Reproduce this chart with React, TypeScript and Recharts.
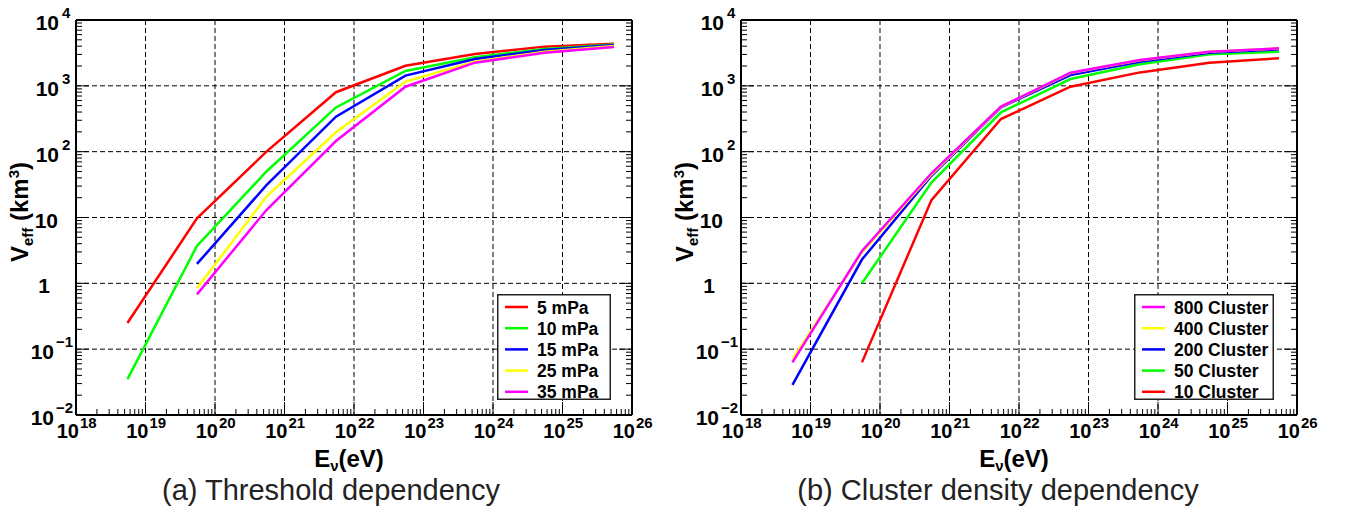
import React from "react";
import { LineChart, Line, XAxis, YAxis, CartesianGrid, Legend } from "recharts";

// neutrino energy of each simulated point (eV)
const energyEv = [5.5e18, 5.5e19, 5.5e20, 5.5e21, 5.5e22, 5.5e23, 5.5e24, 5.5e25];

// (a) threshold dependency, V_eff in km^3
const thrNames = ["5 mPa", "10 mPa", "15 mPa", "25 mPa", "35 mPa"];
const thr5 = [0.25, 9.7, 100, 800, 2020, 3050, 3940, 4370];
const thr10 = [0.035, 3.7, 50, 470, 1680, 2710, 3630, 4260];
const thr15 = [null, 1.97, 31, 340, 1430, 2560, 3500, 4170];
const thr25 = [null, 0.84, 20.7, 197, 1160, 2330, 3300, 4030];
const thr35 = [null, 0.68, 13, 145, 970, 2250, 3190, 3890];

// (b) cluster density dependency, V_eff in km^3
const clNames = ["800 Cluster", "400 Cluster", "200 Cluster", "50 Cluster", "10 Cluster"];
const cl800 = [0.063, 3.1, 47, 483, 1585, 2470, 3300, 3710];
const cl400 = [0.07, 2.95, 45, 480, 1560, 2440, 3300, 3710];
const cl200 = [0.0286, 2.3, 43, 471, 1460, 2330, 3190, 3580];
const cl50 = [null, 1.0, 34, 395, 1270, 2120, 3010, 3300];
const cl10 = [null, 0.063, 18.4, 313, 970, 1600, 2250, 2620];

const xDecades = [18, 19, 20, 21, 22, 23, 24, 25, 26];
const yDecades = [-2, -1, 0, 1, 2, 3, 4];

const FONT = '"Liberation Sans", Arial, Helvetica, sans-serif';

// log axis ticks: decades plus 2..9 minors
function logTicks(decs: number[]) {
  const out: number[] = [];
  decs.forEach((d, i) => {
    out.push(Number(`1e${d}`));
    if (i < decs.length - 1) for (let m = 2; m <= 9; m++) out.push(Number(`${m}e${d}`));
  });
  return out;
}
const xTicks = logTicks(xDecades);
const yTicks = logTicks(yDecades);
const xGrid = xDecades.slice(1, -1).map(d => Number(`1e${d}`));
const yGrid = yDecades.slice(1, -1).map(d => Number(`1e${d}`));

function isMajor(v: number) {
  const l = Math.log10(v);
  return Math.abs(l - Math.round(l)) < 1e-6;
}
const MAJ = 13;
const MIN = 6;

function BottomTick(props: any) {
  const { x, y, payload } = props;
  const major = isMajor(payload.value);
  const p = Math.round(Math.log10(payload.value));
  return (
    <g>
      <line x1={x} x2={x} y1={y} y2={y - (major ? MAJ : MIN)} stroke="#000" />
      {major && (
        <text x={x + 3} y={y + 23} textAnchor="end" fontSize={20} fontWeight="bold" fontFamily={FONT} fill="#000">10</text>
      )}
      {major && (
        <text x={x + 4} y={y + 13} fontSize={15} fontWeight="bold" fontFamily={FONT} fill="#000">{p}</text>
      )}
    </g>
  );
}

function TopTick(props: any) {
  const { x, y, payload } = props;
  const len = isMajor(payload.value) ? MAJ : MIN;
  return <line x1={x} x2={x} y1={y} y2={y + len} stroke="#000" />;
}

function LeftTick(props: any) {
  const { x, y, payload } = props;
  const major = isMajor(payload.value);
  const p = Math.round(Math.log10(payload.value));
  let label: React.ReactNode = null;
  if (major) {
    const common = { fontWeight: "bold", fontFamily: FONT, fill: "#000" } as any;
    if (p === 0) {
      label = <text x={x - 26} y={y + 10} textAnchor="end" fontSize={21} {...common}>1</text>;
    } else if (p === 1) {
      label = <text x={x - 18} y={y + 10} textAnchor="end" fontSize={21} {...common}>10</text>;
    } else {
      const neg = p < 0;
      label = (
        <g>
          <text x={x - (neg ? 22 : 17)} y={y + 10} textAnchor="end" fontSize={21} {...common}>10</text>
          <text x={x - (neg ? 20 : 14)} y={y - 2} fontSize={15} {...common}>{neg ? `\u2212${-p}` : p}</text>
        </g>
      );
    }
  }
  return (
    <g>
      <line x1={x} x2={x + (major ? MAJ : MIN)} y1={y} y2={y} stroke="#000" />
      {label}
    </g>
  );
}

function RightTick(props: any) {
  const { x, y, payload } = props;
  const len = isMajor(payload.value) ? MAJ : MIN;
  return <line x1={x} x2={x - len} y1={y} y2={y} stroke="#000" />;
}

function XTitle(props: any) {
  const vb = props.viewBox;
  const tx = vb.x + vb.width / 2 - 5;
  const ty = vb.y + 52;
  return (
    <text x={tx} y={ty} textAnchor="middle" fontSize={24} fontWeight="bold" fontFamily={FONT} fill="#000">
      E<tspan fontSize={15} dy={4}>ν</tspan><tspan dy={-4}>(eV)</tspan>
    </text>
  );
}

function YTitle(props: any) {
  const vb = props.viewBox;
  const tx = vb.x + vb.width - 48;
  const ty = 212;
  return (
    <text x={tx} y={ty} transform={`rotate(-90, ${tx}, ${ty})`} textAnchor="middle" fontSize={24} fontWeight="bold" fontFamily={FONT} fill="#000">
      V<tspan fontSize={15} dy={5}>eff</tspan><tspan dy={-5}> (km</tspan><tspan fontSize={15} dy={-9}>3</tspan><tspan dy={9}>)</tspan>
    </text>
  );
}

type Series = { key: string; name: string; color: string; values: (number | null)[] };

function LegendBox({ items, width }: { items: Series[]; width: number }) {
  return (
    <svg width={width} height={114} style={{ display: "block", overflow: "visible" }}>
      <rect x={0.75} y={0.75} width={width - 1.5} height={104.5} fill="#fff" stroke="#222" strokeWidth={1.5} />
      {items.map((it, i) => {
        const cy = 13 + i * 21.2;
        return (
          <g key={it.key}>
            <line x1={8} x2={31} y1={cy} y2={cy} stroke={it.color} strokeWidth={2.5} />
            <text x={40} y={cy + 6.5} fontSize={17.5} fontWeight="bold" fontFamily={FONT} fill="#000">{it.name}</text>
          </g>
        );
      })}
    </svg>
  );
}

interface PanelProps {
  left: number;
  width: number;
  plotLeft: number;
  plotRight: number;
  series: Series[];
  legendOrder: Series[];
  legendX: number;
  legendW: number;
  caption: string;
  captionX: number;
}

function Panel({ left, width, plotLeft, plotRight, series, legendOrder, legendX, legendW, caption, captionX }: PanelProps) {
  const W = width;
  const H = 512;
  const rows = energyEv.map((e, i) => {
    const r: any = { e };
    series.forEach(s => { r[s.key] = s.values[i]; });
    return r;
  });
  const frame = { stroke: "#000", strokeWidth: 2 };
  return (
    <div style={{ position: "absolute", left, top: 0, width: W, height: H }}>
      <LineChart width={W} height={H} data={rows} margin={{ top: 19, right: W - plotRight - 1, bottom: 0, left: 0 }}>
        <CartesianGrid stroke="#000" strokeDasharray="5 3" horizontalValues={yGrid} verticalValues={xGrid} />
        <XAxis dataKey="e" type="number" scale="log" domain={[1e18, 1e26]} allowDataOverflow ticks={xTicks} interval={0}
          height={97} tickSize={0} tickMargin={0} tickLine={false} axisLine={frame} tick={BottomTick} label={XTitle} />
        <XAxis xAxisId="top" orientation="top" type="number" scale="log" domain={[1e18, 1e26]} allowDataOverflow ticks={xTicks}
          interval={0} height={1} tickSize={0} tickMargin={0} tickLine={false} axisLine={frame} tick={TopTick} />
        <YAxis type="number" scale="log" domain={[0.01, 10000]} allowDataOverflow ticks={yTicks} interval={0}
          width={plotLeft} tickSize={0} tickMargin={0} tickLine={false} axisLine={frame} tick={LeftTick} label={YTitle} />
        <YAxis yAxisId="right" orientation="right" type="number" scale="log" domain={[0.01, 10000]} allowDataOverflow ticks={yTicks}
          interval={0} width={1} tickSize={0} tickMargin={0} tickLine={false} axisLine={frame} tick={RightTick} />
        {series.map(s => (
          <Line key={s.key} type="linear" dataKey={s.key} name={s.name} stroke={s.color} strokeWidth={2.5}
            dot={false} isAnimationActive={false} />
        ))}
        <Legend layout="vertical" align="center" verticalAlign="middle"
          wrapperStyle={{ left: legendX, top: 294, width: legendW, height: 114 }}
          content={() => <LegendBox items={legendOrder} width={legendW} />} />
      </LineChart>
      <div style={{ position: "absolute", left: captionX - 300, width: 600, top: 478, textAlign: "center",
        fontFamily: FONT, fontSize: 29, lineHeight: "24px", color: "#222" }}>{caption}</div>
    </div>
  );
}

const thrSeries: Series[] = [
  { key: "t5", name: thrNames[0], color: "#ff0000", values: thr5 },
  { key: "t10", name: thrNames[1], color: "#00ff00", values: thr10 },
  { key: "t15", name: thrNames[2], color: "#0000ff", values: thr15 },
  { key: "t25", name: thrNames[3], color: "#ffff00", values: thr25 },
  { key: "t35", name: thrNames[4], color: "#ff00ff", values: thr35 },
];

const clSeries: Series[] = [
  { key: "c800", name: clNames[0], color: "#ff00ff", values: cl800 },
  { key: "c400", name: clNames[1], color: "#ffff00", values: cl400 },
  { key: "c200", name: clNames[2], color: "#0000ff", values: cl200 },
  { key: "c50", name: clNames[3], color: "#00ff00", values: cl50 },
  { key: "c10", name: clNames[4], color: "#ff0000", values: cl10 },
];

export default function App() {
  return (
    <div style={{ position: "absolute", left: 0, top: 0, width: 1348, height: 512, background: "#fff", overflow: "hidden" }}>
      <Panel left={0} width={664} plotLeft={76} plotRight={632} series={thrSeries} legendOrder={thrSeries}
        legendX={497} legendW={114} caption="(a) Threshold dependency" captionX={331} />
      <Panel left={664} width={684} plotLeft={77} plotRight={633} series={[...clSeries].reverse()} legendOrder={clSeries}
        legendX={470} legendW={140} caption="(b) Cluster density dependency" captionX={334} />
    </div>
  );
}
